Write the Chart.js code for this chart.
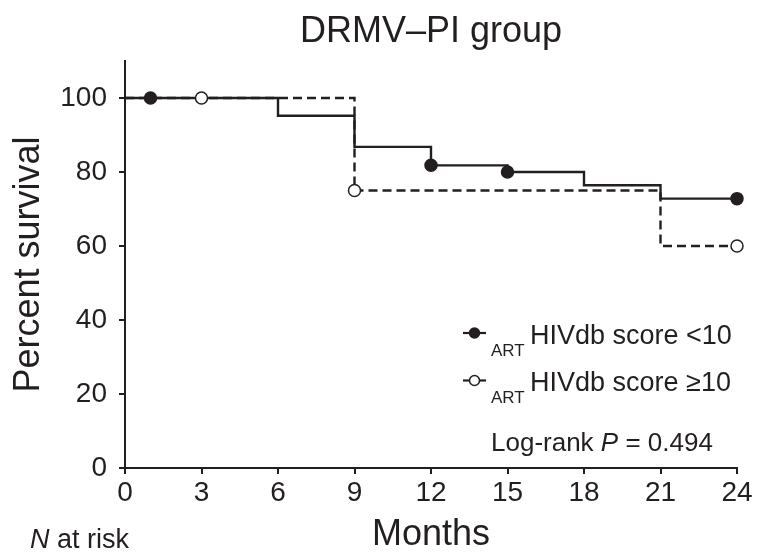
<!DOCTYPE html>
<html>
<head>
<meta charset="utf-8">
<title>DRMV–PI group</title>
<script src="https://cdn.jsdelivr.net/npm/chart.js@4/dist/chart.umd.min.js"></script>
<style>
  html, body { margin: 0; padding: 0; background: #fff; }
  #wrap { width: 773px; height: 553px; }
</style>
</head>
<body>
<div id="wrap"><canvas id="kmChart" width="773" height="553"></canvas></div>
<script>
// Kaplan-Meier steps (months, percent surviving)
const lowMonths = [0, 6, 9, 12, 15, 18, 21, 24];
const lowSurvival = [100, 95.2, 86.8, 81.8, 80.0, 76.4, 72.8, 72.8];
const highMonths = [0, 9, 21, 24];
const highSurvival = [100, 75, 60, 60];

// censored observations
const lowCensorMonths = [1, 12, 15, 24];
const lowCensorSurvival = [100, 81.8, 80.0, 72.8];
const highCensorMonths = [3, 9, 24];
const highCensorSurvival = [100, 75, 60];

const monthTicks = [0, 3, 6, 9, 12, 15, 18, 21, 24];
const percentTicks = [0, 20, 40, 60, 80, 100];

const seriesNames = ["HIVdb score <10", "HIVdb score \u226510"];
const seriesPrefix = "ART";
const chartTitle = "DRMV\u2013PI group";
const pValue = "0.494";

const ink = "#231f20";
const fontFamily = '"Liberation Sans", Arial, Helvetica, sans-serif';

const toPoints = (xs, ys) => xs.map((x, i) => ({ x: x, y: ys[i] }));

// title, legend, p-value and "N at risk" label
const kmText = {
  id: "kmText",
  afterDraw(chart) {
    const { ctx, chartArea } = chart;
    ctx.save();
    ctx.fillStyle = ink;
    ctx.strokeStyle = ink;
    ctx.textBaseline = "alphabetic";

    ctx.font = "36px " + fontFamily;
    ctx.textAlign = "center";
    ctx.fillText(chartTitle, (chartArea.left + chartArea.right) / 2, 42);

    ctx.textAlign = "left";

    // legend rows
    const rows = [
      { y: 333, filled: true },
      { y: 380.5, filled: false }
    ];
    rows.forEach((row, i) => {
      ctx.lineWidth = 2.2;
      ctx.beginPath();
      ctx.moveTo(463, row.y);
      ctx.lineTo(486, row.y);
      ctx.stroke();
      ctx.beginPath();
      ctx.arc(474.5, row.y, 5, 0, Math.PI * 2);
      ctx.fillStyle = row.filled ? ink : "#fff";
      ctx.fill();
      ctx.lineWidth = 1.5;
      ctx.stroke();
      ctx.fillStyle = ink;
      ctx.font = "17px " + fontFamily;
      ctx.fillText(seriesPrefix, 491, row.y + 22.5);
      ctx.font = "27px " + fontFamily;
      ctx.fillText(seriesNames[i], 530, row.y + 10.5);
    });

    // log-rank result
    let x = 491;
    const y = 451;
    ctx.font = "26px " + fontFamily;
    ctx.fillText("Log-rank ", x, y);
    x += ctx.measureText("Log-rank ").width;
    ctx.font = "italic 26px " + fontFamily;
    ctx.fillText("P", x, y);
    x += ctx.measureText("P").width;
    ctx.font = "26px " + fontFamily;
    ctx.fillText(" = " + pValue, x, y);

    // at-risk table heading
    x = 30;
    ctx.font = "italic 27px " + fontFamily;
    ctx.fillText("N", x, 548);
    x += ctx.measureText("N").width;
    ctx.font = "27px " + fontFamily;
    ctx.fillText(" at risk", x, 548);

    ctx.restore();
  }
};

const stepLine = (xs, ys, dash, order) => ({
  data: toPoints(xs, ys),
  borderColor: ink,
  borderWidth: 2.4,
  borderDash: dash,
  stepped: "before",
  pointRadius: 0,
  fill: false,
  clip: false,
  order: order
});

const censorMarks = (xs, ys, filled) => ({
  data: toPoints(xs, ys),
  showLine: false,
  pointRadius: 6,
  pointBorderWidth: 1.5,
  pointBackgroundColor: filled ? ink : "#fff",
  pointBorderColor: ink,
  clip: false,
  order: 0
});

new Chart(document.getElementById("kmChart"), {
  type: "line",
  data: {
    datasets: [
      stepLine(lowMonths, lowSurvival, [], 1),
      stepLine(highMonths, highSurvival, [9, 5], 2),
      censorMarks(lowCensorMonths, lowCensorSurvival, true),
      censorMarks(highCensorMonths, highCensorSurvival, false)
    ]
  },
  options: {
    responsive: false,
    animation: false,
    layout: { padding: { top: 61, right: 36, left: 0, bottom: 0 } },
    plugins: {
      legend: { display: false },
      tooltip: { enabled: false }
    },
    scales: {
      x: {
        type: "linear",
        min: 0,
        max: 24,
        afterBuildTicks: (axis) => { axis.ticks = monthTicks.map(v => ({ value: v })); },
        afterFit: (axis) => { axis.height = 85; },
        grid: { drawOnChartArea: false, drawTicks: true, tickLength: 6, color: ink, lineWidth: 2 },
        border: { display: true, color: ink, width: 2 },
        ticks: { color: ink, padding: 2, maxRotation: 0, font: { family: fontFamily, size: 28 } },
        title: {
          display: true,
          text: "Months",
          color: ink,
          padding: 0,
          font: { family: fontFamily, size: 36, lineHeight: 1 }
        }
      },
      y: {
        type: "linear",
        min: 0,
        max: 110,
        afterBuildTicks: (axis) => { axis.ticks = percentTicks.map(v => ({ value: v })); },
        afterFit: (axis) => { axis.width = 125; },
        grid: { drawOnChartArea: false, drawTicks: true, tickLength: 6, color: ink, lineWidth: 2 },
        border: { display: true, color: ink, width: 2 },
        ticks: { color: ink, padding: 12, font: { family: fontFamily, size: 28 } },
        title: {
          display: true,
          text: "Percent survival",
          color: ink,
          padding: { top: 11, bottom: 0 },
          font: { family: fontFamily, size: 36, lineHeight: 1 }
        }
      }
    }
  },
  plugins: [kmText]
});
</script>
</body>
</html>
